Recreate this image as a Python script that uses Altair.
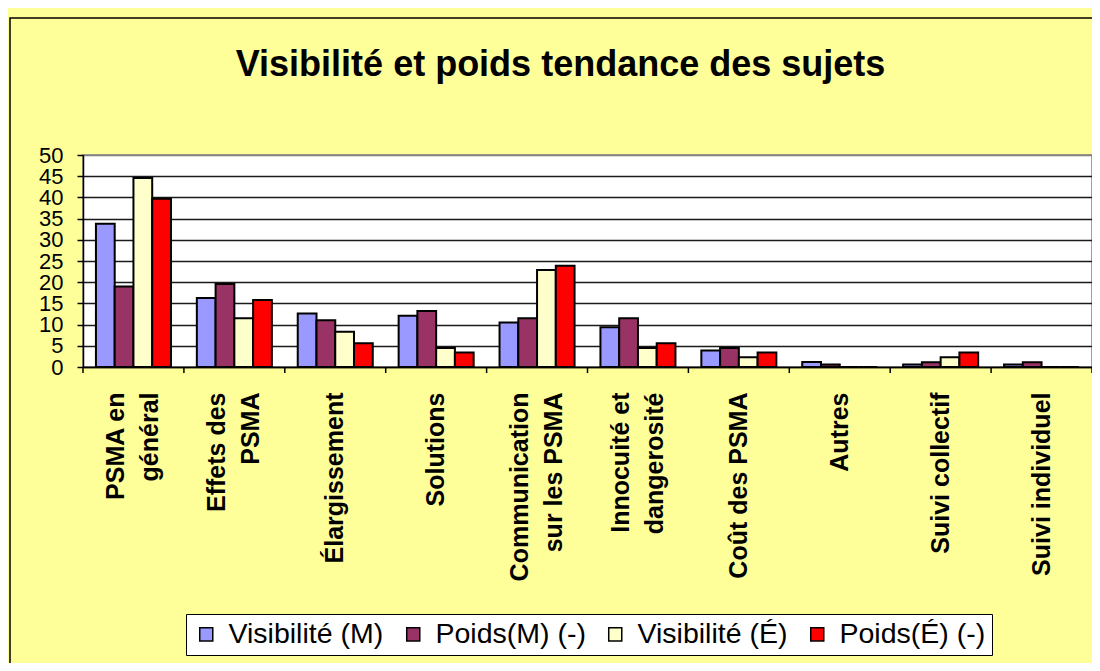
import altair as alt
import pandas as pd

categories = ["PSMA en|général", "Effets des|PSMA", "Élargissement", "Solutions",
              "Communication|sur les PSMA", "Innocuité et|dangerosité", "Coût des PSMA",
              "Autres", "Suivi collectif", "Suivi individuel"]
series_names = ["Visibilité (M)", "Poids(M) (-)", "Visibilité (É)", "Poids(É) (-)"]
vis_m = [33.8, 16.3, 12.6, 12.1, 10.5, 9.4, 3.9, 1.2, 0.6, 0.6]
poids_m = [19.0, 19.6, 11.0, 13.2, 11.5, 11.5, 4.5, 0.6, 1.1, 1.1]
vis_e = [44.6, 11.5, 8.3, 4.5, 22.9, 4.5, 2.3, 0.0, 2.3, 0.0]
poids_e = [39.7, 15.8, 5.6, 3.4, 23.9, 5.6, 3.4, 0.0, 3.4, 0.0]
colors = ["#9999FF", "#993366", "#FFFFCC", "#FF0000"]
y_ticks = list(range(0, 55, 5))

rows = []
for name, vals in zip(series_names, [vis_m, poids_m, vis_e, poids_e]):
    for c, v in zip(categories, vals):
        rows.append({"cat": c, "series": name, "value": v})
df = pd.DataFrame(rows)
cat_df = pd.DataFrame({"cat": categories})

FONT = "Liberation Sans"
W, H = 1009, 212
LH = 34

x_axis = alt.Axis(labelAngle=-90, labelFontSize=25, labelFontWeight="bold",
                  labelFont=FONT, labelColor="black", labelLimit=400,
                  labelLineHeight=LH, labelExpr="split(datum.label, '|')",
                  labelOffset={"condition": {"test": "indexof(datum.label, '|') >= 0",
                                             "value": -LH / 2}, "value": 0},
                  labelOverlap=False, labelBound=False, title=None,
                  ticks=False, labelPadding=25, domainColor="black",
                  domainWidth=1.5)
x_scale = alt.Scale(paddingInner=0, paddingOuter=0)

border = alt.Chart(pd.DataFrame({"a": [0]})).mark_rect(
    fillOpacity=0, stroke="black", strokeWidth=1.5
).encode(x=alt.value(-73), x2=alt.value(1030), y=alt.value(-137), y2=alt.value(530))

bars = alt.Chart(df).mark_bar(stroke="black", strokeWidth=2).encode(
    x=alt.X("cat:N", sort=categories, title=None, scale=x_scale, axis=x_axis),
    xOffset=alt.XOffset("series:N", sort=series_names,
                        scale=alt.Scale(paddingInner=0, paddingOuter=0.69)),
    y=alt.Y("value:Q", title=None,
            scale=alt.Scale(domain=[0, 50], nice=False),
            axis=alt.Axis(values=y_ticks, labelFontSize=22, labelFont=FONT,
                          labelColor="black", labelPadding=14, tickSize=6,
                          labelOverlap=False,
                          tickColor="black", tickWidth=1.5, domainColor="black",
                          domainWidth=1.5, grid=True,
                          gridColor={"condition": {"test": "datum.value >= 50", "value": "#808080"},
                                     "value": "#1a1a1a"},
                          gridWidth=1.5)),
    color=alt.Color("series:N", sort=series_names,
                    scale=alt.Scale(domain=series_names, range=colors),
                    legend=alt.Legend(orient="none", legendX=103, legendY=459,
                                      direction="horizontal", title=None,
                                      labelFontSize=28.5, labelFont=FONT, labelColor="black",
                                      symbolType="square", symbolSize=170,
                                      symbolStrokeColor="black", symbolStrokeWidth=1.5,
                                      symbolOpacity=1, labelOffset=8, columnPadding=15,
                                      fillColor="white", strokeColor="black",
                                      padding=6)),
)

ticks = alt.Chart(cat_df).mark_rule(color="black", strokeWidth=1.5).encode(
    x=alt.X("cat:N", sort=categories, bandPosition=0, title=None, scale=x_scale, axis=x_axis),
    y=alt.value(H), y2=alt.value(H + 6),
)
last_tick = alt.Chart(pd.DataFrame({"a": [0]})).mark_rule(color="black", strokeWidth=1.5).encode(
    x=alt.value(W), y=alt.value(H), y2=alt.value(H + 6)
)

chart = alt.layer(border, bars, ticks, last_tick).properties(
    width=W, height=H,
    background="#FFFF99",
    autosize=alt.AutoSizeParams(type="none"),
    padding={"left": 75, "top": 147, "right": 0, "bottom": 296},
    title=alt.TitleParams("Visibilité et poids tendance des sujets", fontSize=36,
                          font=FONT, fontWeight="bold", color="black",
                          anchor="middle", baseline="bottom", offset=-103, dx=-27),
).configure_view(fill="white", stroke="#808080", strokeWidth=1.5)

chart.save("out.html", embed_options={"renderer": "svg", "actions": False})
